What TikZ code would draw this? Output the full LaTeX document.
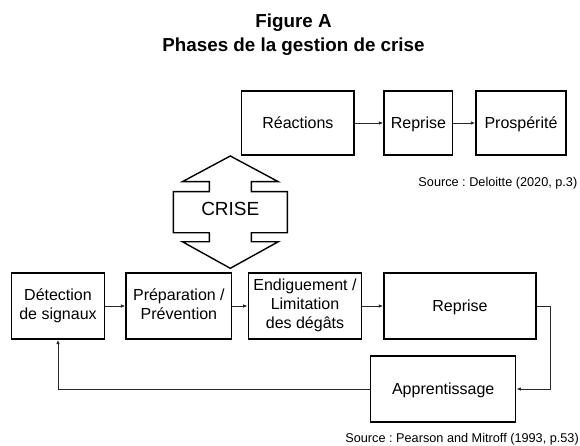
\documentclass[tikz,border=0pt]{standalone}
\usepackage{fontspec}
\setmainfont{Liberation Sans}
\usetikzlibrary{arrows.meta}
\definecolor{linec}{RGB}{40,40,40}
\frenchspacing
\begin{document}
\begin{tikzpicture}[x=1pt,y=-1pt,
  box/.style={draw=black, line width=1.4pt, inner sep=0pt, align=center,
    font=\fontsize{16}{19}\selectfont,
    execute at begin node={\rule{0pt}{15pt}},
    execute at end node={\rule[-4pt]{0pt}{0pt}}},
  conn/.style={draw=linec, line width=0.9pt, -{Latex[length=4.5pt,width=3.6pt]}},
  src/.style={inner sep=0pt, font=\fontsize{12.7}{14}\selectfont},
  ttl/.style={inner sep=0pt, font=\fontsize{18.8}{22}\selectfont\bfseries}]
\useasboundingbox (0,0) rectangle (580,446);
% titles
\node[ttl, anchor=base] (t1) at (293.5,28) {Figure A};
\node[ttl, anchor=base] (t2) at (293.5,51.5) {Phases de la gestion de crise};
% top row
\node[box, minimum width=112.3pt, minimum height=64pt] (rea) at (297.9,123) {Réactions};
\node[box, minimum width=68.7pt, minimum height=64pt] (rep1) at (418.4,123) {Reprise};
\node[box, minimum width=90pt, minimum height=64pt] (pros) at (521,123) {Prospérité};
\node[src, anchor=east] (s1) at (577.5,183) {Source : Deloitte (2020, p.3)};
\draw[conn] (rea) -- (rep1);
\draw[conn] (rep1) -- (pros);
% CRISE shape
\draw[black, line width=1.4pt, line join=miter]
  (230.3,156) -- (278.3,181.7) -- (251.3,181.7) -- (251.3,191.7) -- (287.3,191.7)
  -- (287.3,232.7) -- (251.3,232.7) -- (251.3,241.7) -- (278.3,241.7) -- (230.3,268.3)
  -- (182.3,241.7) -- (209.3,241.7) -- (209.3,232.7) -- (173.3,232.7) -- (173.3,191.7)
  -- (209.3,191.7) -- (209.3,181.7) -- (182.3,181.7) -- cycle;
\node[inner sep=0pt, font=\fontsize{19}{22}\selectfont] (crise) at (230.3,209) {CRISE};
% bottom row
\node[box, minimum width=92.6pt, minimum height=66pt] (det) at (58,306) {Détection\\de signaux};
\node[box, minimum width=105.7pt, minimum height=66pt] (prep) at (178.9,306) {Préparation /\\Prévention};
\node[box, minimum width=113.4pt, minimum height=66pt] (endi) at (305,306) {Endiguement /\\Limitation\\des dégâts};
\node[box, minimum width=152pt, minimum height=66pt] (rep2) at (460,306) {Reprise};
\node[box, minimum width=145pt, minimum height=65.7pt] (app) at (443.2,389) {Apprentissage};
\node[src, anchor=east] (s2) at (579,439) {Source : Pearson and Mitroff (1993, p.53)};
\draw[conn] (det) -- (prep);
\draw[conn] (prep) -- (endi);
\draw[conn] (endi) -- (rep2);
\coordinate (rc) at (550.7,306);
\draw[conn] (rep2.east) -- (rc) |- (app.east);
\draw[conn] (app.west) -| (det.south);
\end{tikzpicture}
\end{document}
